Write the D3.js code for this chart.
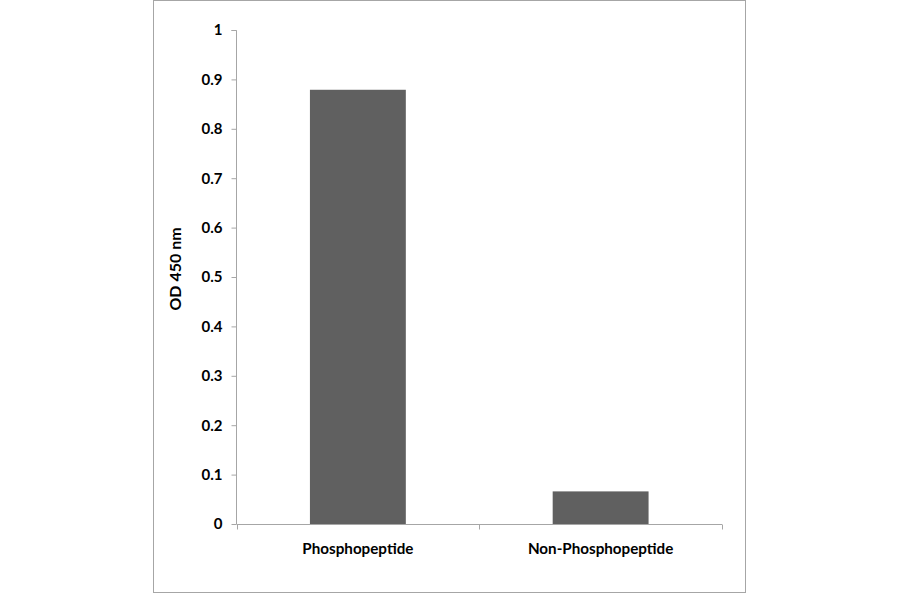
<!DOCTYPE html>
<html><head><meta charset="utf-8">
<script src="https://cdn.jsdelivr.net/npm/d3@7"></script>
<style>body{margin:0;background:#fff}svg{display:block}text{font-family:Lato,"Open Sans",sans-serif;font-weight:bold;fill:#000}</style>
</head><body>
<svg id="c" width="900" height="594"></svg>
<script>
const categories = ["Phosphopeptide", "Non-Phosphopeptide"];
const values = [0.879, 0.066];
const yTicks = [0, 0.1, 0.2, 0.3, 0.4, 0.5, 0.6, 0.7, 0.8, 0.9, 1];
const yTickLabels = ["0", "0.1", "0.2", "0.3", "0.4", "0.5", "0.6", "0.7", "0.8", "0.9", "1"];
const yTitle = "OD 450 nm";

const svg = d3.select("#c");
svg.append("rect").attr("x",153.5).attr("y",0.5).attr("width",592).attr("height",592)
  .attr("fill","#fff").attr("stroke","#a6a6a6").attr("stroke-width",1);

const x0 = 236.5, x1 = 722, yTop = 30, yBot = 524;
const x = d3.scaleBand().domain(categories).range([x0, x1]).paddingInner(0.605).paddingOuter(0.3025);
const y = d3.scaleLinear().domain([0,1]).range([yBot, yTop]);

// bars
svg.selectAll("rect.bar").data(values).join("rect").attr("class","bar")
  .attr("x",(d,i)=>x(categories[i])).attr("width",x.bandwidth())
  .attr("y",d=>y(d)).attr("height",d=>yBot-y(d)).attr("fill","#606060");

// y axis
const yAxis = d3.axisLeft(y).tickValues(yTicks).tickFormat((d,i)=>yTickLabels[i]).tickSize(5).tickPadding(9);
const gy = svg.append("g").attr("transform",`translate(${x0},0)`).call(yAxis);
gy.select(".domain").attr("stroke","#a6a6a6").attr("d",`M-5,${yTop+0.5}H0V${yBot}`);
gy.selectAll(".tick line").attr("stroke","#a6a6a6");
gy.selectAll(".tick text").style("font-size","15px").style("font-family","Lato, sans-serif").style("font-weight","bold").attr("fill","#000");

// x axis
const xb = d3.scaleLinear().domain([0,categories.length]).range([x0,x1]);
const gx = svg.append("g").attr("transform",`translate(0,${yBot+0.5})`);
gx.append("path").attr("d",`M${x0},0H${x1}`).attr("stroke","#a6a6a6").attr("fill","none");
gx.selectAll("line.t").data(d3.range(categories.length+1)).join("line").attr("class","t")
  .attr("x1",d=>Math.round(xb(d))+0.5).attr("x2",d=>Math.round(xb(d))+0.5).attr("y1",0).attr("y2",5).attr("stroke","#a6a6a6");
gx.selectAll("text").data(categories).join("text")
  .attr("x",d=>x(d)+x.bandwidth()/2).attr("y",29).attr("text-anchor","middle")
  .style("font-size","15.2px").text(d=>d);

// y title
svg.append("text").attr("transform","translate(181,269) rotate(-90)").attr("text-anchor","middle")
  .style("font-size","16px").text(yTitle);
</script>
</body></html>
